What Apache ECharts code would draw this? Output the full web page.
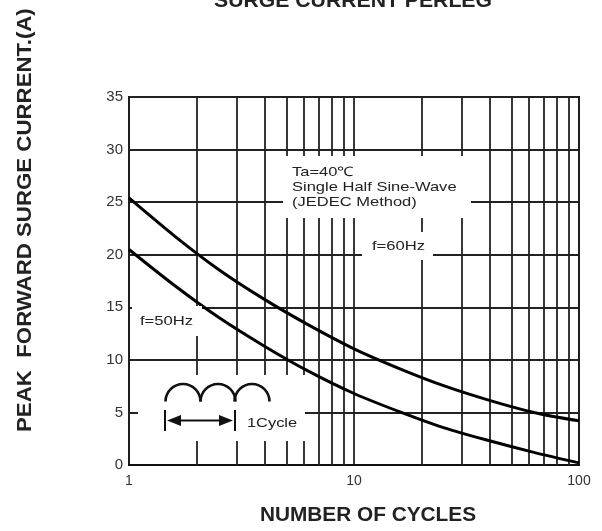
<!DOCTYPE html>
<html>
<head>
<meta charset="utf-8">
<script src="https://cdn.jsdelivr.net/npm/echarts@6/dist/echarts.min.js"></script>
<style>
  html, body { margin: 0; padding: 0; background: #fff; }
  #chart { width: 602px; height: 531px; }
</style>
</head>
<body>
<div id="chart"></div>
<script>
// Peak forward surge current versus number of cycles (per leg)
const cycles = [1, 1.6, 2.5, 4, 6.3, 10, 16, 25, 40, 63, 100];
const amps60 = [25.4, 21.75, 18.6, 15.75, 13.3, 11.05, 9.15, 7.55, 6.15, 5.0, 4.2];
const amps50 = [20.5, 17.05, 14.05, 11.3, 8.9, 6.8, 5.05, 3.55, 2.3, 1.2, 0.2];

// minor log gridlines inside each decade
const minorCycles = [2, 3, 4, 5, 6, 7, 8, 9, 20, 30, 40, 50, 60, 70, 80, 90];

const FONT = '"Liberation Sans", Arial, sans-serif';
const INK = '#222';

const pairs = (xs, ys) => xs.map((x, i) => [x, ys[i]]);

const chart = echarts.init(document.getElementById('chart'), null, { renderer: 'canvas' });

function label(text, x, y, opts) {
  return Object.assign({
    type: 'text', x: x, y: y, z: 20, silent: true,
    style: Object.assign({
      text: text, x: 0, y: 0, fill: INK, font: '13px ' + FONT,
      textAlign: 'left', textVerticalAlign: 'middle'
    }, (opts && opts.style) || {})
  }, (opts && opts.el) || {});
}

function whiteBox(x, y, w, h) {
  return { type: 'rect', z: 15, silent: true, shape: { x: x, y: y, width: w, height: h }, style: { fill: '#fff' } };
}

function hump(cx) {
  return {
    type: 'arc', z: 18, silent: true,
    shape: { cx: cx, cy: 401.5, r: 17.5, startAngle: Math.PI, endAngle: Math.PI * 2, clockwise: true },
    style: { stroke: '#111', lineWidth: 2.6, fill: null }
  };
}

const graphics = [
  // headings
  label('SURGE CURRENT PERLEG', 353, 1, { style: { font: 'bold 20px ' + FONT, textAlign: 'center' }, el: { scaleX: 1.06 } }),
  label('NUMBER OF CYCLES', 368, 515, { style: { font: 'bold 20px ' + FONT, textAlign: 'center' }, el: { scaleX: 1.04 } }),
  label('PEAK  FORWARD SURGE CURRENT.(A)', 25, 432, { style: { font: 'bold 21px ' + FONT }, el: { rotation: Math.PI / 2, scaleX: 1.06 } }),

  // conditions note
  whiteBox(283, 156, 188, 62),
  label('Ta=40\u2103', 292, 172.5, { el: { scaleX: 1.27 } }),
  label('Single Half Sine-Wave', 292, 187.5, { el: { scaleX: 1.27 } }),
  label('(JEDEC Method)', 292, 202, { el: { scaleX: 1.27 } }),

  // curve tags
  whiteBox(362, 232, 71, 28),
  label('f=60Hz', 372, 246, { el: { scaleX: 1.28 } }),
  whiteBox(132, 306, 70, 30),
  label('f=50Hz', 140, 321, { el: { scaleX: 1.28 } }),

  // half-sine waveform sketch with one-cycle arrow
  whiteBox(138, 375, 167, 66),
  hump(183), hump(218), hump(252),
  { type: 'line', z: 18, silent: true, shape: { x1: 165, y1: 410, x2: 165, y2: 431 }, style: { stroke: '#111', lineWidth: 2 } },
  { type: 'line', z: 18, silent: true, shape: { x1: 235, y1: 410, x2: 235, y2: 431 }, style: { stroke: '#111', lineWidth: 2 } },
  { type: 'line', z: 18, silent: true, shape: { x1: 175, y1: 420.5, x2: 225, y2: 420.5 }, style: { stroke: '#111', lineWidth: 2 } },
  { type: 'polygon', z: 18, silent: true, shape: { points: [[167, 420.5], [181, 415], [181, 426]] }, style: { fill: '#111' } },
  { type: 'polygon', z: 18, silent: true, shape: { points: [[233, 420.5], [219, 415], [219, 426]] }, style: { fill: '#111' } },
  label('1Cycle', 247, 423, { el: { scaleX: 1.26 } })
];

chart.setOption({
  animation: false,
  backgroundColor: '#fff',
  grid: {
    left: 129, right: 23, top: 97, bottom: 66,
    show: true, borderColor: '#111', borderWidth: 2, backgroundColor: 'transparent'
  },
  xAxis: {
    type: 'log', logBase: 10, min: 1, max: 100,
    axisLine: { show: true, lineStyle: { color: '#111', width: 2 } },
    axisTick: { show: false },
    axisLabel: { color: '#333', fontFamily: FONT, fontSize: 14, margin: 9, showMinLabel: true, showMaxLabel: true },
    splitLine: { show: true, lineStyle: { color: '#222', width: 1.8 } },
    minorSplitLine: { show: false }
  },
  yAxis: {
    type: 'value', min: 0, max: 35, interval: 5,
    axisLine: { show: false },
    axisTick: { show: false },
    axisLabel: { color: '#333', fontFamily: FONT, fontSize: 15, margin: 6 },
    splitLine: { show: true, lineStyle: { color: '#222', width: 1.8 } }
  },
  series: [
    {
      name: 'grid',
      type: 'line', data: [], z: 1, silent: true,
      markLine: {
        silent: true, symbol: ['none', 'none'], animation: false,
        label: { show: false },
        lineStyle: { color: '#222', width: 1.8, type: 'solid' },
        emphasis: { disabled: true },
        data: minorCycles.map(v => ({ xAxis: v }))
      }
    },
    {
      name: 'f=60Hz', type: 'line', z: 10, data: pairs(cycles, amps60),
      smooth: 0.3, showSymbol: false, symbol: 'none',
      lineStyle: { color: '#000', width: 3 }
    },
    {
      name: 'f=50Hz', type: 'line', z: 10, data: pairs(cycles, amps50),
      smooth: 0.3, showSymbol: false, symbol: 'none',
      lineStyle: { color: '#000', width: 3 }
    }
  ],
  graphic: { elements: graphics }
});
</script>
</body>
</html>
